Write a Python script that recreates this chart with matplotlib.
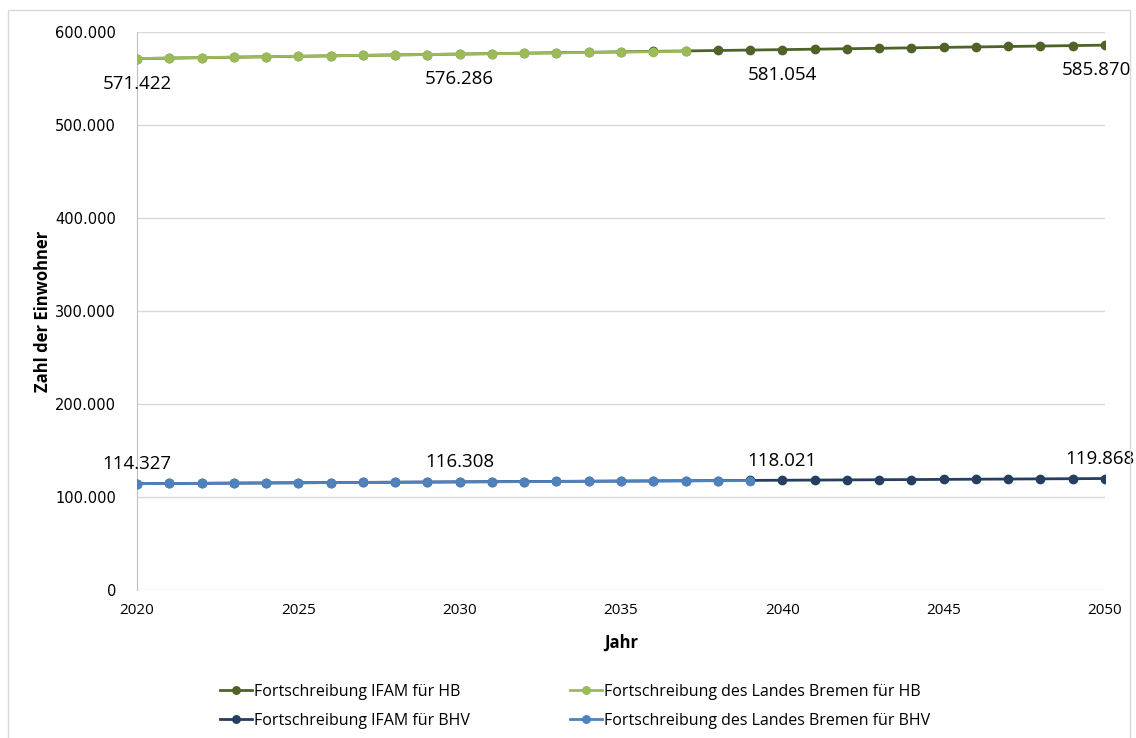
import matplotlib.pyplot as plt
from matplotlib.patches import Rectangle
from matplotlib.ticker import FuncFormatter, MultipleLocator

# Daten
jahre = list(range(2020, 2051))
ifam_hb = [571422, 571900, 572390, 572880, 573370, 573860, 574350, 574840, 575320, 575800,
           576286, 576770, 577250, 577730, 578210, 578690, 579170, 579640, 580110, 580580,
           581054, 581530, 582010, 582490, 582970, 583450, 583930, 584410, 584890, 585380,
           585870]
land_hb_jahre = list(range(2020, 2038))
land_hb = [571422, 571980, 572500, 573000, 573480, 573950, 574420, 574880, 575330, 575780,
           576220, 576660, 577100, 577530, 577960, 578380, 578800, 579210]
ifam_bhv = [114327, 114530, 114730, 114930, 115130, 115330, 115530, 115720, 115920, 116110,
            116308, 116480, 116650, 116820, 116990, 117160, 117330, 117500, 117680, 117850,
            118021, 118200, 118390, 118570, 118760, 118940, 119130, 119310, 119500, 119680,
            119868]
land_bhv_jahre = list(range(2020, 2040))
land_bhv = [114327, 114520, 114710, 114900, 115090, 115280, 115460, 115640, 115820, 116000,
            116180, 116350, 116520, 116690, 116860, 117020, 117180, 117340, 117500, 117660]
label_jahre = [2020, 2030, 2040, 2050]

fig = plt.figure(figsize=(11.36, 7.38), dpi=100)
fig.patches.append(Rectangle((8 / 1136, -0.01), 1122 / 1136, 1 - 10 / 738 + 0.01,
                             transform=fig.transFigure, fill=False,
                             edgecolor='#D9D9D9', linewidth=1))
ax = fig.add_axes([137 / 1136, 1 - 590 / 738, 968 / 1136, 558 / 738])

txt = ['Open Sans', 'DejaVu Sans']
ms = 6

l1, = ax.plot(jahre, ifam_hb, color='#4F6228', marker='o', markersize=ms, linewidth=2,
              label='Fortschreibung IFAM für HB', zorder=3)
l2, = ax.plot(land_hb_jahre, land_hb, color='#9BBB59', marker='o', markersize=ms, linewidth=2,
              label='Fortschreibung des Landes Bremen für HB', zorder=4)
l3, = ax.plot(jahre, ifam_bhv, color='#243F60', marker='o', markersize=ms, linewidth=2,
              label='Fortschreibung IFAM für BHV', zorder=3)
l4, = ax.plot(land_bhv_jahre, land_bhv, color='#4F81BD', marker='o', markersize=ms, linewidth=2,
              label='Fortschreibung des Landes Bremen für BHV', zorder=4)

def fmt(v):
    return f'{v:,.0f}'.replace(',', '.')

for j in label_jahre:
    i = jahre.index(j)
    if j == 2050:
        ha, dx1, dx2 = 'right', 19, 21
    else:
        ha, dx1, dx2 = 'center', 0, 0
    ax.annotate(fmt(ifam_hb[i]), (j, ifam_hb[i]), xytext=(dx1, -18), textcoords='offset points',
                ha=ha, va='center', fontsize=13.5, family=txt, annotation_clip=False)
    ax.annotate(fmt(ifam_bhv[i]), (j, ifam_bhv[i]), xytext=(dx2, 14), textcoords='offset points',
                ha=ha, va='center', fontsize=13.5, family=txt, annotation_clip=False)

ax.set_xlim(2020, 2050)
ax.set_ylim(0, 600000)
ax.xaxis.set_major_locator(MultipleLocator(5))
ax.yaxis.set_major_locator(MultipleLocator(100000))
ax.yaxis.set_major_formatter(FuncFormatter(lambda v, p: fmt(v)))
ax.grid(axis='y', color='#D9D9D9', linewidth=1)
ax.set_axisbelow(True)
for s in ['top', 'right', 'bottom']:
    ax.spines[s].set_visible(False)
ax.spines['left'].set_color('#BFBFBF')
ax.tick_params(axis='x', length=0, labelsize=11, pad=9)
ax.tick_params(axis='y', length=0, labelsize=10.5, pad=15)
for t in ax.get_xticklabels():
    t.set_family(txt)
for t in ax.get_yticklabels():
    t.set_family('DejaVu Sans')

ax.set_xlabel('Jahr', fontsize=12, fontweight='bold', family=txt, labelpad=12)
ax.set_ylabel('Zahl der Einwohner', fontsize=12, fontweight='bold', family=txt, labelpad=2)

# Reihenfolge zeilenweise wie im Original
fig.legend([l1, l3, l2, l4], [l.get_label() for l in [l1, l3, l2, l4]],
           loc='center', bbox_to_anchor=(0.506, 0.043), ncol=2, frameon=False,
           prop={'family': txt, 'size': 11.5}, columnspacing=6.3, handlelength=2.0,
           handletextpad=0.1, labelspacing=0.8, markerscale=0.9)

plt.savefig('out.png', dpi=100)
plt.close()
